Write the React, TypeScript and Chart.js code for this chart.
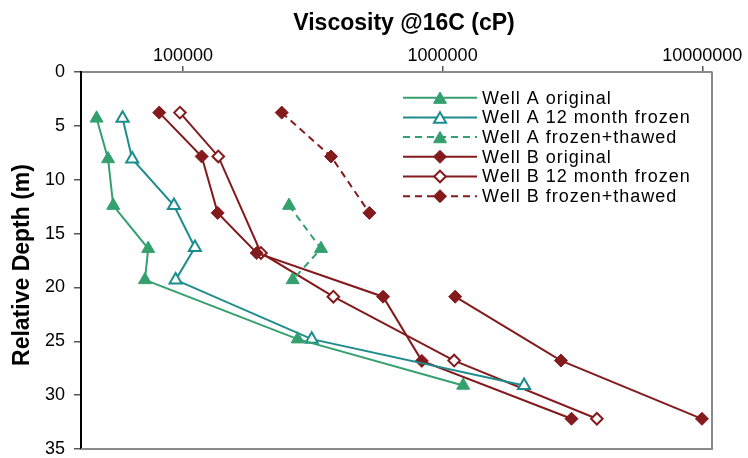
import React, { useEffect, useRef } from 'react';
import { Chart, registerables } from 'chart.js';

Chart.register(...registerables);

// ---- Data (viscosity in cP vs relative depth in m) ----
const wellAOrigDepth = [4.3, 8.07, 12.4, 16.4, 19.3, 24.8, 29.1];
const wellAOrigVisc = [46500, 51500, 53900, 73500, 71400, 276600, 1200000];

const wellA12Depth = [4.3, 8.07, 12.4, 16.3, 19.3, 24.8, 29.1];
const wellA12Visc = [58560, 63780, 92330, 111200, 93730, 313300, 2060000];

const wellAThawDepth = [12.4, 16.4, 19.3];
const wellAThawVisc = [256200, 340200, 264700];

const wellBOrigDepth = [3.77, 7.84, 13.08, 16.8, 20.86, 26.82, 32.19];
const wellBOrigVisc = [81040, 118100, 136100, 192300, 589800, 831700, 3136000];

const wellB12Depth = [3.77, 7.84, 16.8, 20.86, 26.79, 32.19];
const wellB12Visc = [97370, 136800, 199800, 379600, 1107500, 3928000];

const wellBThawDepth = [3.77, 7.84, 13.08];
const wellBThawVisc = [240100, 371800, 522300];

const wellBExtraDepth = [20.86, 26.79, 32.2];
const wellBExtraVisc = [1117400, 2855000, 9970000];

const xTickValues = [100000, 1000000, 10000000];
const yTickLabels = [0, 5, 10, 15, 20, 25, 30, 35];

const xTitle = 'Viscosity @16C (cP)';
const yTitle = 'Relative Depth (m)';

const GREEN = '#34a06e';
const TEAL = '#1d8c8c';
const RED = '#831a1c';
const FONT = '"Liberation Sans", Arial, sans-serif';

const zip = (xs: number[], ys: number[]) => xs.map((x, i) => ({ x, y: ys[i] }));

function drawMarker(ctx: CanvasRenderingContext2D, style: string, x: number, y: number, r: number, fill: string, stroke: string, bw: number) {
  ctx.save();
  ctx.beginPath();
  if (style === 'triangle') {
    ctx.moveTo(x, y - r);
    ctx.lineTo(x + 0.866 * r, y + 0.5 * r);
    ctx.lineTo(x - 0.866 * r, y + 0.5 * r);
  } else {
    ctx.moveTo(x, y - r);
    ctx.lineTo(x + r, y);
    ctx.lineTo(x, y + r);
    ctx.lineTo(x - r, y);
  }
  ctx.closePath();
  ctx.fillStyle = fill;
  ctx.fill();
  ctx.lineWidth = bw;
  ctx.strokeStyle = stroke;
  ctx.stroke();
  ctx.restore();
}

const decorPlugin = {
  id: 'decor',
  beforeDatasetsDraw(chart: any) {
    const { ctx, chartArea } = chart;
    ctx.save();
    ctx.strokeStyle = '#8a8a8a';
    ctx.lineWidth = 2;
    ctx.beginPath();
    ctx.moveTo(chartArea.right, chartArea.top);
    ctx.lineTo(chartArea.right, chartArea.bottom);
    ctx.lineTo(chartArea.left, chartArea.bottom);
    ctx.stroke();
    ctx.restore();
  },
  afterDraw(chart: any) {
    const { ctx, chartArea } = chart;
    ctx.save();
    // titles
    ctx.fillStyle = '#000';
    ctx.font = `bold 23px ${FONT}`;
    ctx.textAlign = 'center';
    ctx.textBaseline = 'middle';
    ctx.fillText(xTitle, chartArea.left + 323, 24);
    ctx.translate(22.5, 265);
    ctx.rotate(-Math.PI / 2);
    ctx.fillText(yTitle, 0, 0);
    ctx.restore();

    // legend
    ctx.save();
    const ds = chart.data.datasets.filter((d: any) => !d.hideInLegend);
    const x0 = chartArea.left + 322;
    const x1 = chartArea.left + 396;
    const xm = (x0 + x1) / 2;
    ds.forEach((d: any, i: number) => {
      const y = chartArea.top + 25.7 + i * 19.7;
      ctx.save();
      ctx.strokeStyle = d.borderColor;
      ctx.lineWidth = 2;
      ctx.setLineDash(d.borderDash || []);
      ctx.beginPath();
      ctx.moveTo(x0, y);
      ctx.lineTo(x1, y);
      ctx.stroke();
      ctx.restore();
      const r = d.pointRadius;
      const cy = d.pointStyle === 'triangle' ? y + r / 4 : y;
      drawMarker(ctx, d.pointStyle, xm, cy, r, d.pointBackgroundColor, d.pointBorderColor, d.pointBorderWidth);
      ctx.fillStyle = '#000';
      ctx.font = `18px ${FONT}`;
      (ctx as any).letterSpacing = '1px';
      ctx.textAlign = 'left';
      ctx.textBaseline = 'middle';
      ctx.fillText(d.label, x1 + 5, y + 1);
    });
    ctx.restore();
  },
};

function mk(label: string, xs: number[], ys: number[], color: string, style: string, hollow: boolean, dashed: boolean, extra: any = {}) {
  return {
    label,
    data: zip(xs, ys),
    showLine: true,
    borderColor: color,
    backgroundColor: color,
    borderWidth: 2,
    borderDash: dashed ? [7, 5] : [],
    pointStyle: style,
    pointRadius: style === 'triangle' ? (hollow ? 7 : 7.5) : (hollow ? 5.8 : 6.5),
    pointHoverRadius: 7,
    pointBackgroundColor: hollow ? '#ffffff' : color,
    pointBorderColor: color,
    pointBorderWidth: hollow ? 2 : 1,
    ...extra,
  };
}

export default function App() {
  const ref = useRef<HTMLCanvasElement>(null);
  useEffect(() => {
    document.body.style.margin = '0';
    const datasets: any[] = [
      mk('Well A original', wellAOrigVisc, wellAOrigDepth, GREEN, 'triangle', false, false),
      mk('Well A 12 month frozen', wellA12Visc, wellA12Depth, TEAL, 'triangle', true, false),
      mk('Well A frozen+thawed', wellAThawVisc, wellAThawDepth, GREEN, 'triangle', false, true),
      mk('Well B original', wellBOrigVisc, wellBOrigDepth, RED, 'rectRot', false, false),
      mk('Well B 12 month frozen', wellB12Visc, wellB12Depth, RED, 'rectRot', true, false),
      mk('Well B frozen+thawed', wellBThawVisc, wellBThawDepth, RED, 'rectRot', false, true),
      mk('Well B (deep)', wellBExtraVisc, wellBExtraDepth, RED, 'rectRot', false, false, { hideInLegend: true }),
    ];
    const chart = new Chart(ref.current!, {
      type: 'scatter',
      data: { datasets },
      plugins: [decorPlugin],
      options: {
        animation: false,
        responsive: false,
        layout: { padding: { left: 0, top: 0, right: 36, bottom: 8 } },
        plugins: { legend: { display: false }, tooltip: { enabled: false }, title: { display: false } },
        scales: {
          x: {
            type: 'logarithmic',
            position: 'top',
            min: 40500,
            max: 10900000,
            bounds: 'data',
            afterFit: (s: any) => { s.height = 72; s.paddingLeft = 0; },
            afterBuildTicks: (s: any) => { s.ticks = xTickValues.map((v) => ({ value: v })); },
            ticks: {
              autoSkip: false,
              maxRotation: 0,
              padding: -1,
              color: '#000',
              font: { family: FONT, size: 18 },
              callback: (v: any) => String(v),
            },
            grid: { display: true, drawOnChartArea: false, drawTicks: true, tickLength: 6, color: '#555', lineWidth: 1.5 },
            border: { display: true, color: '#8a8a8a', width: 2 },
          },
          y: {
            type: 'linear',
            reverse: true,
            min: 0,
            max: 35,
            afterFit: (s: any) => { s.width = 81; s.paddingTop = 0; s.paddingBottom = 0; },
            afterBuildTicks: (s: any) => { s.ticks = yTickLabels.map((v) => ({ value: v })); },
            ticks: {
              stepSize: 5,
              padding: 9,
              color: '#000',
              font: { family: FONT, size: 18 },
            },
            grid: { display: true, drawOnChartArea: false, drawTicks: true, tickLength: 7, color: '#555', lineWidth: 1.5 },
            border: { display: true, color: '#000', width: 2 },
          },
        },
      } as any,
    });
    return () => chart.destroy();
  }, []);
  return (
    <div style={{ position: 'absolute', left: 0, top: 0, width: 748, height: 458, background: '#fff' }}>
      <canvas ref={ref} width={748} height={458} />
    </div>
  );
}
